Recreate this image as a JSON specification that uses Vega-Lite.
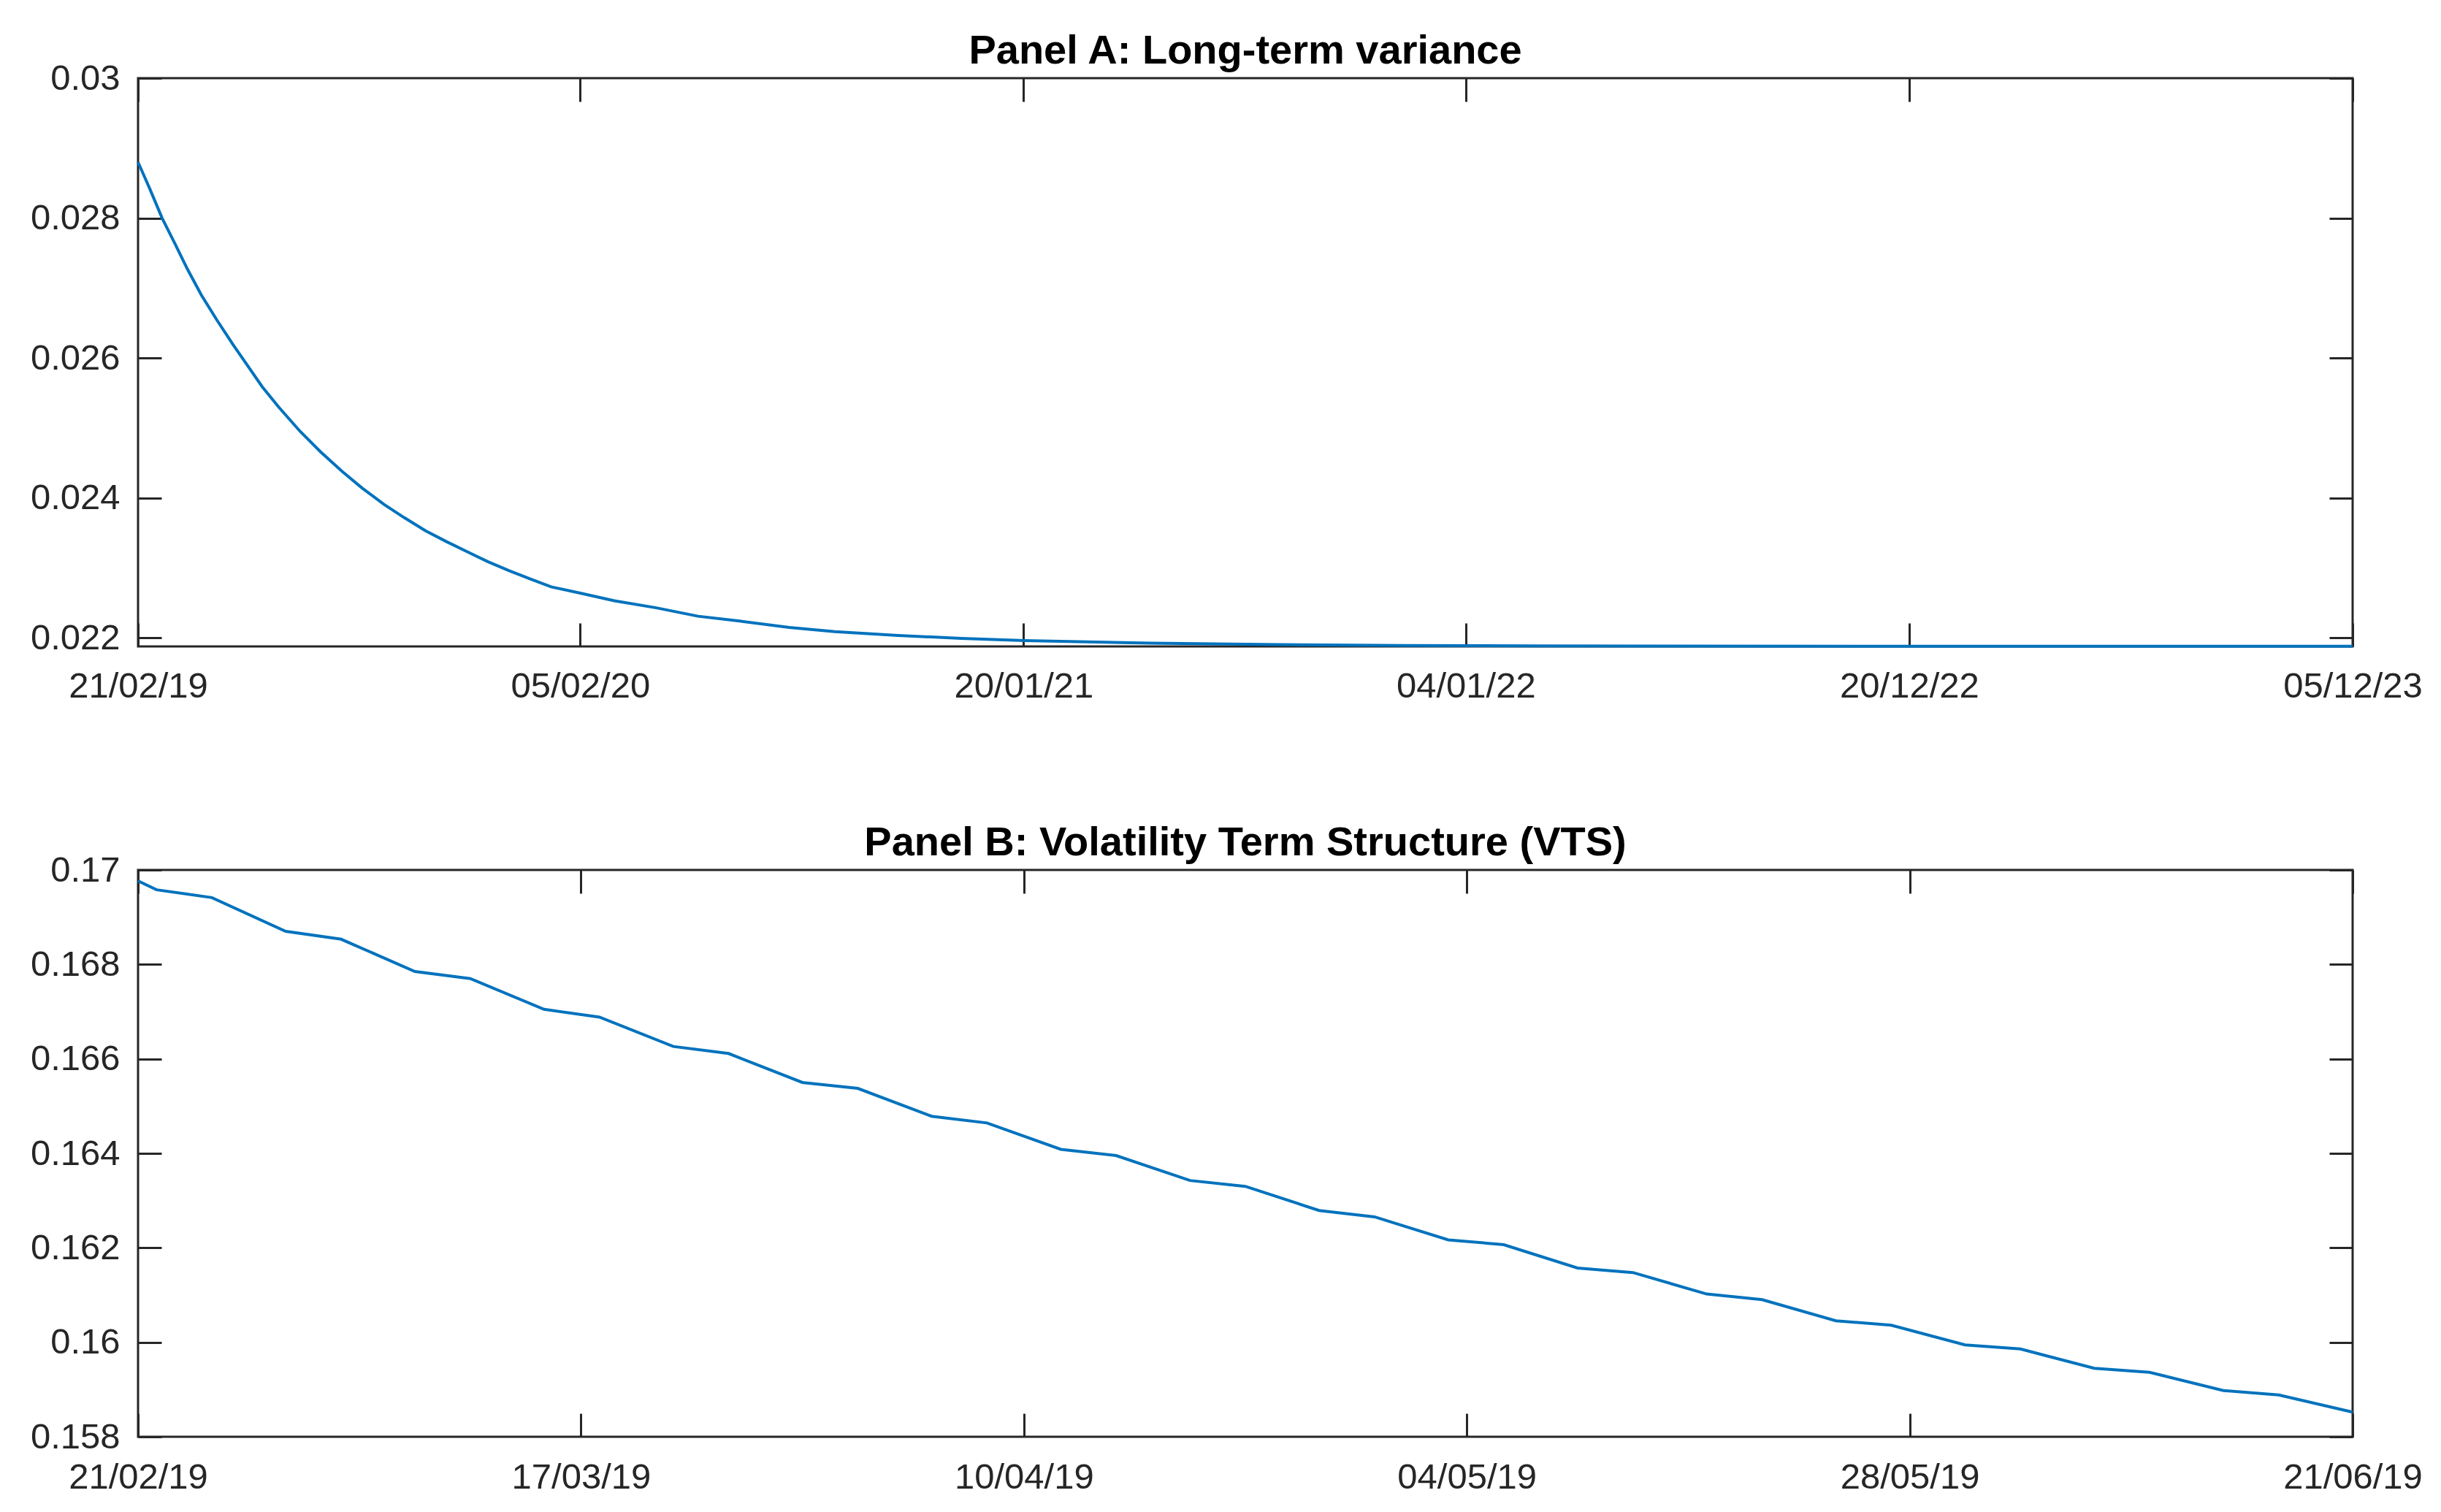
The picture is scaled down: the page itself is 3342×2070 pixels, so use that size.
{
  "$schema": "https://vega.github.io/schema/vega-lite/v6.json",
  "autosize": {"type": "pad"},
  "padding": {"left": 39, "top": 40, "right": 0, "bottom": 0},
  "background": "white",
  "bounds": "flush",
  "spacing": 306,
  "config": {
    "view": {"stroke": "#262626", "strokeWidth": 3},
    "axis": {
      "domain": false,
      "grid": false,
      "tickColor": "#262626",
      "tickWidth": 3,
      "tickSize": 32,
      "labelFont": "Liberation Sans",
      "labelFontSize": 49,
      "labelColor": "#262626",
      "labelFlush": false,
      "labelOverlap": false,
      "labelBound": false,
      "labelLimit": 0,
      "title": null
    },
    "title": {
      "font": "Liberation Sans",
      "fontSize": 56,
      "fontWeight": "bold",
      "color": "#000000",
      "anchor": "middle",
      "baseline": "alphabetic",
      "offset": -16
    }
  },
  "datasets": {
    "a": [
      {"date": "2019-02-21", "v": 0.02880},
      {"date": "2019-03-02", "v": 0.02843},
      {"date": "2019-03-12", "v": 0.02800},
      {"date": "2019-03-22", "v": 0.02764},
      {"date": "2019-04-01", "v": 0.02727},
      {"date": "2019-04-12", "v": 0.02690},
      {"date": "2019-04-24", "v": 0.02655},
      {"date": "2019-05-07", "v": 0.02619},
      {"date": "2019-05-17", "v": 0.02593},
      {"date": "2019-05-30", "v": 0.02559},
      {"date": "2019-06-12", "v": 0.02530},
      {"date": "2019-06-29", "v": 0.02495},
      {"date": "2019-07-15", "v": 0.02466},
      {"date": "2019-08-01", "v": 0.02438},
      {"date": "2019-08-17", "v": 0.02414},
      {"date": "2019-09-03", "v": 0.02391},
      {"date": "2019-09-19", "v": 0.02372},
      {"date": "2019-10-06", "v": 0.02353},
      {"date": "2019-10-22", "v": 0.02338},
      {"date": "2019-11-08", "v": 0.02323},
      {"date": "2019-11-24", "v": 0.02309},
      {"date": "2019-12-11", "v": 0.02296},
      {"date": "2019-12-28", "v": 0.02284},
      {"date": "2020-01-13", "v": 0.02273},
      {"date": "2020-02-05", "v": 0.02264},
      {"date": "2020-03-03", "v": 0.02253},
      {"date": "2020-04-05", "v": 0.02243},
      {"date": "2020-05-08", "v": 0.02231},
      {"date": "2020-06-10", "v": 0.02224},
      {"date": "2020-07-19", "v": 0.02215},
      {"date": "2020-08-24", "v": 0.02209},
      {"date": "2020-10-13", "v": 0.022035},
      {"date": "2020-12-02", "v": 0.021993},
      {"date": "2021-01-21", "v": 0.021962},
      {"date": "2021-05-01", "v": 0.021924},
      {"date": "2021-08-09", "v": 0.021903},
      {"date": "2021-11-17", "v": 0.021892},
      {"date": "2022-02-25", "v": 0.021886},
      {"date": "2022-06-05", "v": 0.021883},
      {"date": "2022-12-22", "v": 0.021881},
      {"date": "2023-12-05", "v": 0.02188}
    ],
    "b": [
      {"date": "2019-02-21", "v": 0.169768},
      {"date": "2019-02-22", "v": 0.16958},
      {"date": "2019-02-25", "v": 0.169415},
      {"date": "2019-03-01", "v": 0.1687},
      {"date": "2019-03-04", "v": 0.168534},
      {"date": "2019-03-08", "v": 0.16785},
      {"date": "2019-03-11", "v": 0.167701},
      {"date": "2019-03-15", "v": 0.167049},
      {"date": "2019-03-18", "v": 0.166884},
      {"date": "2019-03-22", "v": 0.166263},
      {"date": "2019-03-25", "v": 0.166114},
      {"date": "2019-03-29", "v": 0.165501},
      {"date": "2019-04-01", "v": 0.165375},
      {"date": "2019-04-05", "v": 0.164786},
      {"date": "2019-04-08", "v": 0.164644},
      {"date": "2019-04-12", "v": 0.164086},
      {"date": "2019-04-15", "v": 0.163953},
      {"date": "2019-04-19", "v": 0.163426},
      {"date": "2019-04-22", "v": 0.163301},
      {"date": "2019-04-26", "v": 0.16279},
      {"date": "2019-04-29", "v": 0.162656},
      {"date": "2019-05-03", "v": 0.162169},
      {"date": "2019-05-06", "v": 0.162067},
      {"date": "2019-05-10", "v": 0.161572},
      {"date": "2019-05-13", "v": 0.161477},
      {"date": "2019-05-17", "v": 0.161022},
      {"date": "2019-05-20", "v": 0.160904},
      {"date": "2019-05-24", "v": 0.160456},
      {"date": "2019-05-27", "v": 0.160362},
      {"date": "2019-05-31", "v": 0.159945},
      {"date": "2019-06-03", "v": 0.159859},
      {"date": "2019-06-07", "v": 0.15945},
      {"date": "2019-06-10", "v": 0.159364},
      {"date": "2019-06-14", "v": 0.158979},
      {"date": "2019-06-17", "v": 0.158884},
      {"date": "2019-06-21", "v": 0.158523}
    ]
  },
  "vconcat": [
    {
      "width": 3032,
      "height": 778,
      "title": {"text": "Panel A: Long-term variance"},
      "data": {"name": "a"},
      "layer": [
        {
          "mark": {"type": "line", "color": "#0072BD", "strokeWidth": 4},
          "encoding": {
            "x": {
              "field": "date", "type": "temporal",
              "scale": {"type": "utc", "nice": false, "domain": [{"year": 2019, "month": 2, "date": 21, "utc": true}, {"year": 2023, "month": 12, "date": 5, "utc": true}]},
              "axis": {
                "orient": "bottom", "offset": -32, "labelPadding": 30, "format": "%d/%m/%y",
                "values": [
                  {"year": 2019, "month": 2, "date": 21, "utc": true},
                  {"year": 2020, "month": 2, "date": 5, "utc": true},
                  {"year": 2021, "month": 1, "date": 20, "utc": true},
                  {"year": 2022, "month": 1, "date": 4, "utc": true},
                  {"year": 2022, "month": 12, "date": 20, "utc": true},
                  {"year": 2023, "month": 12, "date": 5, "utc": true}
                ]
              }
            },
            "y": {
              "field": "v", "type": "quantitative",
              "scale": {"domain": [0.021878, 0.03], "nice": false, "zero": false},
              "axis": {"orient": "left", "offset": -32, "labelPadding": 25, "format": "~g", "values": [0.022, 0.024, 0.026, 0.028, 0.03]}
            }
          }
        },
        {
          "mark": {"type": "line", "strokeOpacity": 0},
          "encoding": {
            "x": {
              "field": "date", "type": "temporal",
              "axis": {
                "orient": "top", "offset": -32, "labels": false,
                "values": [
                  {"year": 2019, "month": 2, "date": 21, "utc": true},
                  {"year": 2020, "month": 2, "date": 5, "utc": true},
                  {"year": 2021, "month": 1, "date": 20, "utc": true},
                  {"year": 2022, "month": 1, "date": 4, "utc": true},
                  {"year": 2022, "month": 12, "date": 20, "utc": true},
                  {"year": 2023, "month": 12, "date": 5, "utc": true}
                ]
              }
            },
            "y": {
              "field": "v", "type": "quantitative",
              "axis": {"orient": "right", "offset": -32, "labels": false, "values": [0.022, 0.024, 0.026, 0.028, 0.03]}
            }
          }
        }
      ],
      "resolve": {"axis": {"x": "independent", "y": "independent"}}
    },
    {
      "width": 3032,
      "height": 776,
      "title": {"text": "Panel B: Volatility Term Structure (VTS)"},
      "data": {"name": "b"},
      "layer": [
        {
          "mark": {"type": "line", "color": "#0072BD", "strokeWidth": 4},
          "encoding": {
            "x": {
              "field": "date", "type": "temporal",
              "scale": {"type": "utc", "nice": false, "domain": [{"year": 2019, "month": 2, "date": 21, "utc": true}, {"year": 2019, "month": 6, "date": 21, "utc": true}]},
              "axis": {
                "orient": "bottom", "offset": -32, "labelPadding": 31, "format": "%d/%m/%y",
                "values": [
                  {"year": 2019, "month": 2, "date": 21, "utc": true},
                  {"year": 2019, "month": 3, "date": 17, "utc": true},
                  {"year": 2019, "month": 4, "date": 10, "utc": true},
                  {"year": 2019, "month": 5, "date": 4, "utc": true},
                  {"year": 2019, "month": 5, "date": 28, "utc": true},
                  {"year": 2019, "month": 6, "date": 21, "utc": true}
                ]
              }
            },
            "y": {
              "field": "v", "type": "quantitative",
              "scale": {"domain": [0.158, 0.17], "nice": false, "zero": false},
              "axis": {"orient": "left", "offset": -32, "labelPadding": 25, "format": "~g", "values": [0.158, 0.16, 0.162, 0.164, 0.166, 0.168, 0.17]}
            }
          }
        },
        {
          "mark": {"type": "line", "strokeOpacity": 0},
          "encoding": {
            "x": {
              "field": "date", "type": "temporal",
              "axis": {
                "orient": "top", "offset": -32, "labels": false,
                "values": [
                  {"year": 2019, "month": 2, "date": 21, "utc": true},
                  {"year": 2019, "month": 3, "date": 17, "utc": true},
                  {"year": 2019, "month": 4, "date": 10, "utc": true},
                  {"year": 2019, "month": 5, "date": 4, "utc": true},
                  {"year": 2019, "month": 5, "date": 28, "utc": true},
                  {"year": 2019, "month": 6, "date": 21, "utc": true}
                ]
              }
            },
            "y": {
              "field": "v", "type": "quantitative",
              "axis": {"orient": "right", "offset": -32, "labels": false, "values": [0.158, 0.16, 0.162, 0.164, 0.166, 0.168, 0.17]}
            }
          }
        }
      ],
      "resolve": {"axis": {"x": "independent", "y": "independent"}}
    }
  ]
}
